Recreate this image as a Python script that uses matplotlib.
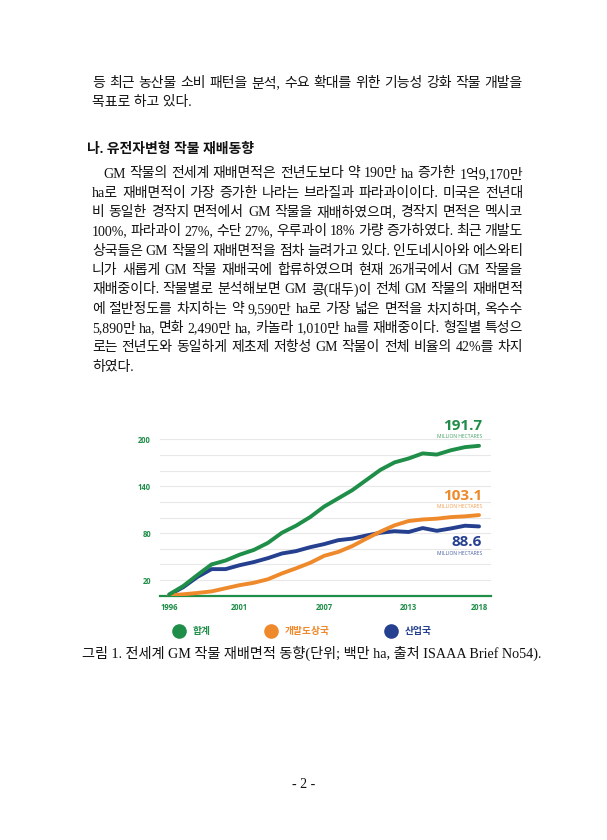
import numpy as np
import matplotlib
matplotlib.use("Agg")
import matplotlib.pyplot as plt
from matplotlib.lines import Line2D

# data (million ha)
years = list(range(1996, 2019))
total = [1.7, 12.5, 26.5, 40.0, 45.0, 52.5, 58.5, 67.5, 80.5, 89.5, 100.5, 114.0,
         124.5, 135.0, 148.0, 161.0, 170.5, 175.5, 182.0, 180.5, 186.0, 190.0, 191.7]
developing = [0.5, 1.8, 3.5, 5.5, 9.5, 13.5, 16.5, 21.0, 28.5, 35.0, 42.0, 51.0,
              56.0, 63.5, 73.0, 82.0, 90.0, 95.5, 97.5, 98.5, 100.5, 101.5, 103.1]
industrial = [1.2, 11.0, 24.0, 34.0, 34.0, 39.0, 43.0, 48.0, 54.0, 57.0, 62.0, 66.0,
              71.0, 73.0, 77.0, 80.5, 82.5, 81.5, 86.5, 83.0, 86.0, 89.5, 88.6]
xtick_years = [1996, 2001, 2007, 2013, 2018]
ytick_vals = list(range(20, 201, 20))
ytick_shown = [20, 80, 140, 200]
series_names = ["합계", "개발도상국", "산업국"]

top_lines = [
    "등 최근 농산물 소비 패턴을 분석, 수요 확대를 위한 기능성 강화 작물 개발을",
    "목표로 하고 있다.",
]
heading = "나. 유전자변형 작물 재배동향"
para = [
    "GM 작물의 전세계 재배면적은 전년도보다 약 190만 ha 증가한 1억9,170만",
    "ha로 재배면적이 가장 증가한 나라는 브라질과 파라과이이다. 미국은 전년대",
    "비 동일한 경작지 면적에서 GM 작물을 재배하였으며, 경작지 면적은 멕시코",
    "100%, 파라과이 27%, 수단 27%, 우루과이 18% 가량 증가하였다. 최근 개발도",
    "상국들은 GM 작물의 재배면적을 점차 늘려가고 있다. 인도네시아와 에스와티",
    "니가 새롭게 GM 작물 재배국에 합류하였으며 현재 26개국에서 GM 작물을",
    "재배중이다. 작물별로 분석해보면 GM 콩(대두)이 전체 GM 작물의 재배면적",
    "에 절반정도를 차지하는 약 9,590만 ha로 가장 넓은 면적을 차지하며, 옥수수",
    "5,890만 ha, 면화 2,490만 ha, 카놀라 1,010만 ha를 재배중이다. 형질별 특성으",
    "로는 전년도와 동일하게 제초제 저항성 GM 작물이 전체 비율의 42%를 차지",
    "하였다.",
]
caption = "그림 1. 전세계 GM 작물 재배면적 동향(단위; 백만 ha, 출처 ISAAA Brief No54)."

GREEN = "#1f8e48"
ORANGE = "#ef8a2c"
BLUE = "#25408f"
BODY = ["Liberation Serif", "Noto Sans CJK KR"]
SANS = ["Open Sans", "Noto Sans CJK KR"]

W, H = 607, 840
fig = plt.figure(figsize=(W / 100, H / 100), dpi=100)
renderer = fig.canvas.get_renderer()


def put_line(y, text, x0, x1=None, **kw):
    # place one line of body text, justified between x0 and x1 (pixels from top-left)
    if x1 is None:
        fig.text(x0 / W, 1 - y / H, text, ha="left", va="center", **kw)
        return
    words = text.split(" ")
    arts = [fig.text(0, 1 - y / H, w, ha="left", va="center", **kw) for w in words]
    widths = [a.get_window_extent(renderer).width for a in arts]
    gap = (x1 - x0 - sum(widths)) / max(len(words) - 1, 1)
    x = x0
    for a, w in zip(arts, widths):
        a.set_x(x / W)
        x += w + gap


fs = 10
put_line(83, top_lines[0], 92.5, 523, family=BODY, fontsize=fs, color="#111")
put_line(102.5, top_lines[1], 92.5, family=BODY, fontsize=fs, color="#111")
put_line(149.5, heading, 87, family=BODY, fontsize=fs, color="#111", weight="bold")
for i, line in enumerate(para):
    y = 174 + i * 19.3
    x0 = 103 if i == 0 else 92
    if i == len(para) - 1:
        put_line(y, line, x0, family=BODY, fontsize=fs, color="#111")
    else:
        put_line(y, line, x0, 523, family=BODY, fontsize=fs, color="#111")

# chart
ax = fig.add_axes([160 / W, 1 - 595.7 / H, 331 / W, 164.2 / H])
ax.set_xlim(1995.34, 2018.85)
ax.set_ylim(0, 210)
ax.plot(years, industrial, color=BLUE, lw=2.8, solid_capstyle="round", zorder=3)
ax.plot(years, developing, color=ORANGE, lw=2.8, solid_capstyle="round", zorder=4)
ax.plot(years, total, color=GREEN, lw=2.8, solid_capstyle="round", zorder=5)

ax.set_yticks(ytick_vals)
ax.set_yticklabels([str(v) if v in ytick_shown else "" for v in ytick_vals])
ax.set_xticks(xtick_years)
ax.set_xticklabels([str(v) for v in xtick_years])
ax.tick_params(length=0, labelsize=5.5, labelcolor=GREEN)
ax.tick_params(axis="y", pad=6.5)
ax.tick_params(axis="x", pad=5)
for lab in ax.get_xticklabels() + ax.get_yticklabels():
    lab.set_fontweight("bold")
    lab.set_family(SANS)
ax.grid(axis="y", color="#e8e8e8", lw=0.8)
ax.set_axisbelow(True)
for s in ["top", "right", "left"]:
    ax.spines[s].set_visible(False)
ax.spines["bottom"].set_color(GREEN)
ax.spines["bottom"].set_linewidth(1.6)
ax.patch.set_alpha(0)

# end labels
ends = [(total, GREEN, 20, 9), (developing, ORANGE, 19, 8.5), (industrial, BLUE, -16, -27)]
for vals, col, dy1, dy2 in ends:
    ax.annotate(f"{vals[-1]}", xy=(years[-1], vals[-1]), xytext=(3, dy1),
                textcoords="offset pixels", ha="right", va="center", color=col,
                fontsize=11, weight="bold", family=SANS, annotation_clip=False)
    ax.annotate("MILLION HECTARES", xy=(years[-1], vals[-1]), xytext=(3, dy2),
                textcoords="offset pixels", ha="right", va="center", color=col,
                fontsize=3.6, family=SANS, alpha=0.85, annotation_clip=False)

handles = [Line2D([], [], ls="", marker="o", ms=9.5, color=c) for c in (GREEN, ORANGE, BLUE)]
leg = ax.legend(handles, series_names, ncol=3, loc="center left", frameon=False,
                bbox_to_anchor=(0.015, -0.22), handletextpad=0.9, columnspacing=5.8,
                handlelength=1.0, prop={"family": SANS, "size": 7, "weight": "bold"})
for t, c in zip(leg.get_texts(), (GREEN, ORANGE, BLUE)):
    t.set_color(c)

fig.text(0.5 + 8 / W, 1 - 653.5 / H, caption, ha="center", va="center",
         family=BODY, fontsize=10.2, color="#111")
fig.text(0.5, 1 - 785 / H, "- 2 -", ha="center", va="center",
         family=BODY, fontsize=fs, color="#111")

fig.savefig("out.png", dpi=100, facecolor="white")
